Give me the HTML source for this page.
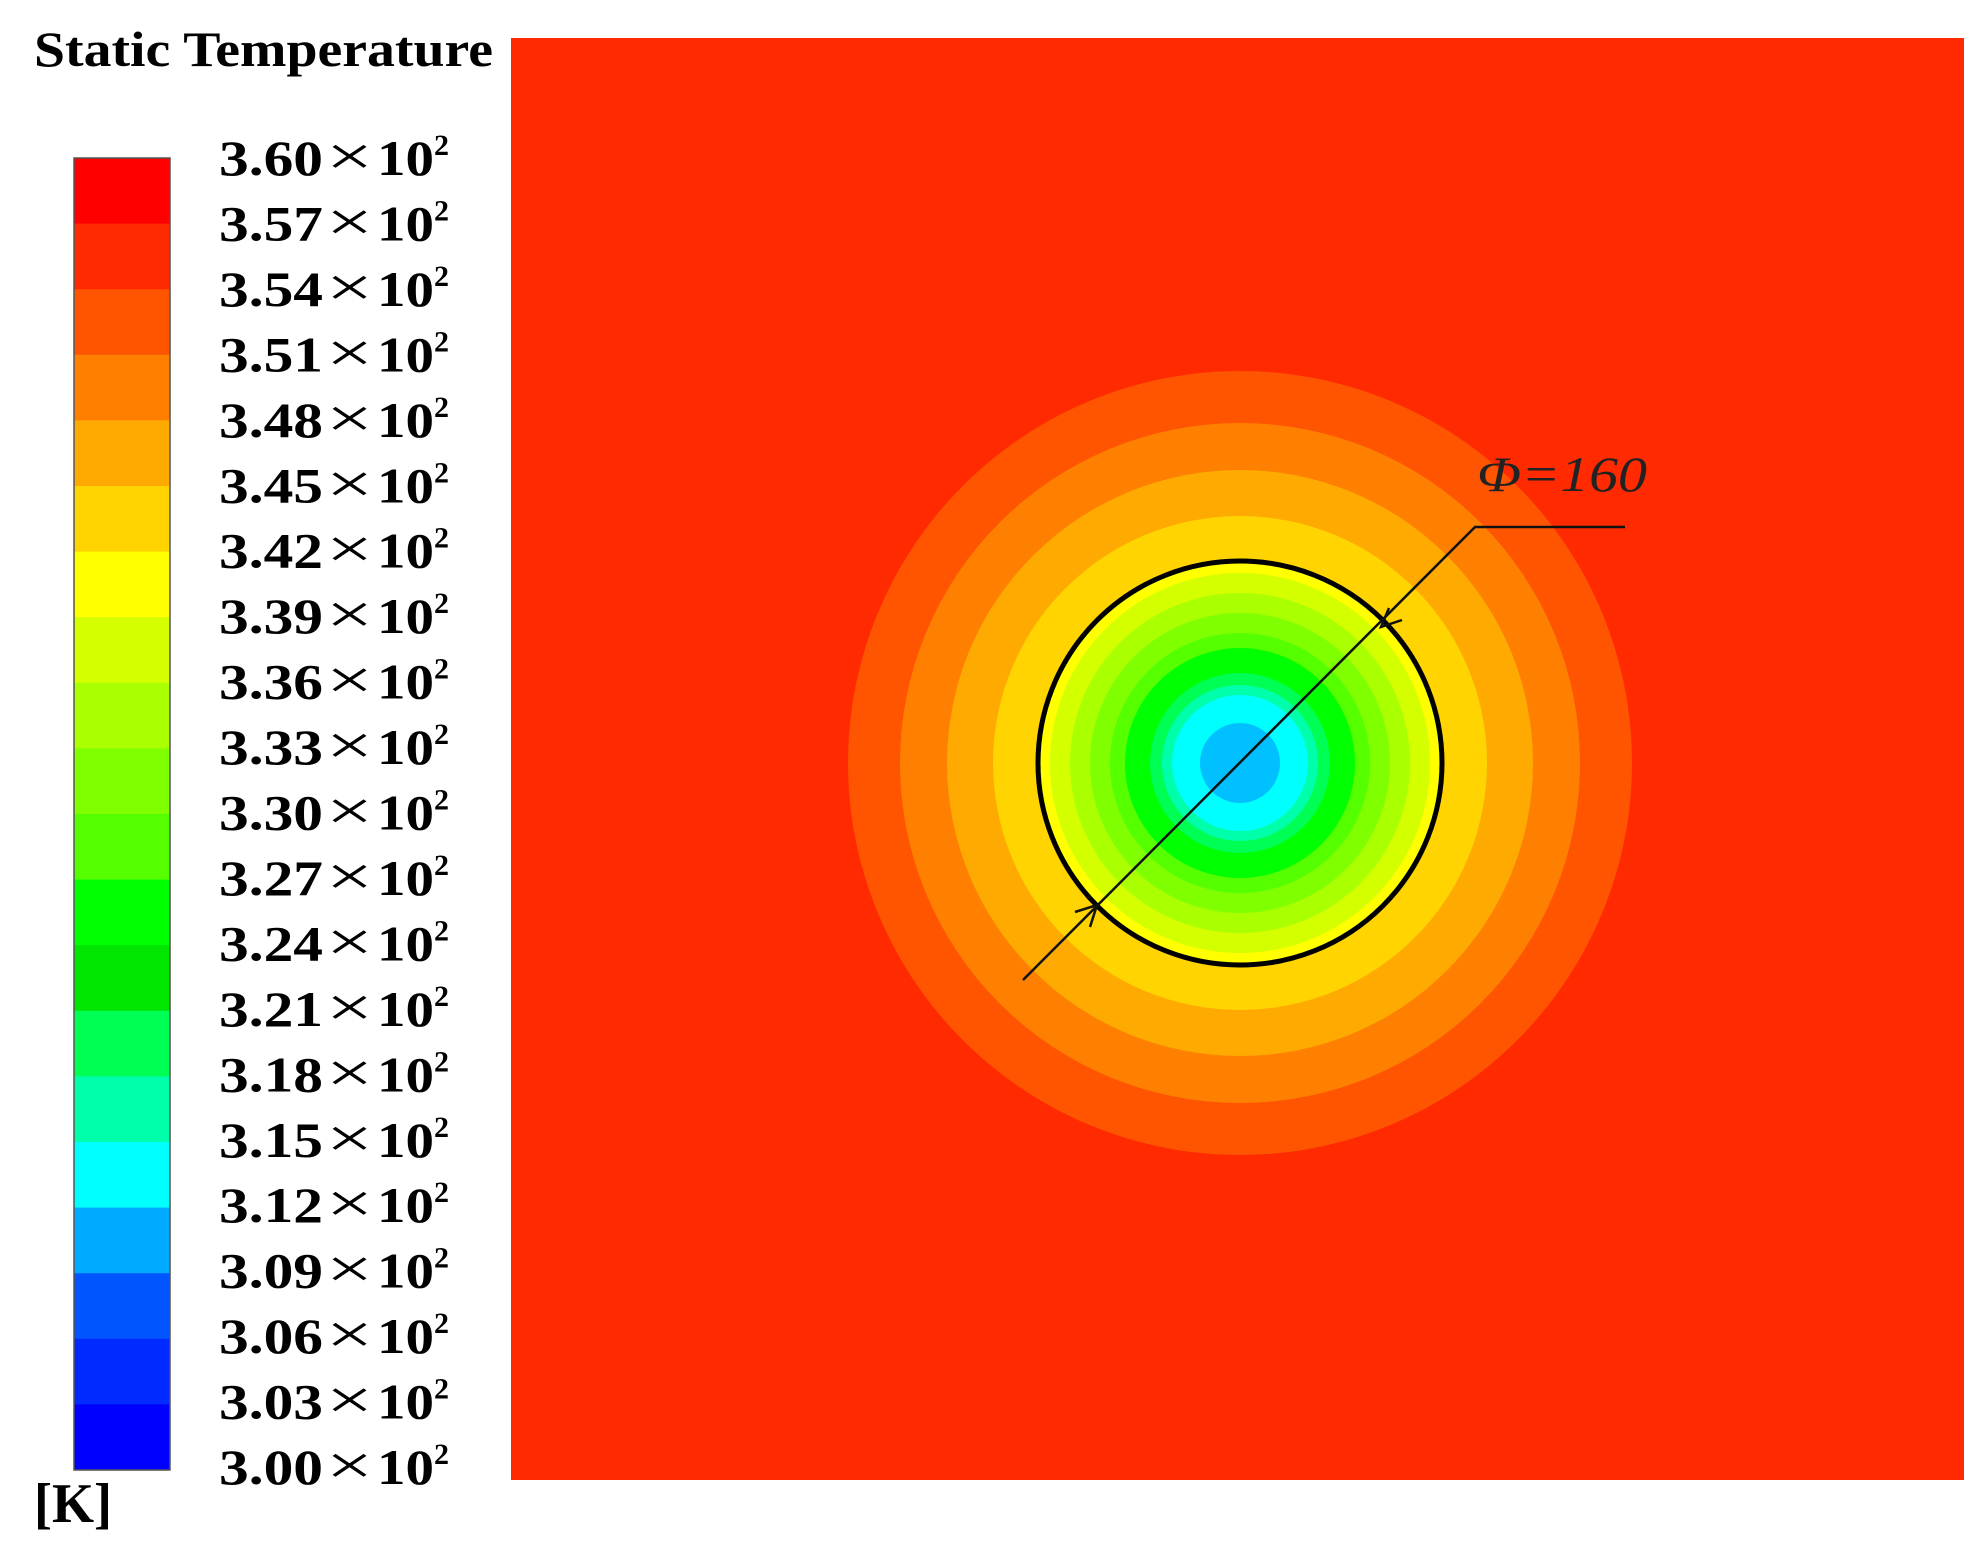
<!DOCTYPE html>
<html><head><meta charset="utf-8"><style>
html,body{margin:0;padding:0;background:#fff;}
svg{display:block;font-family:"Liberation Serif",serif;}
</style></head><body>
<svg id="chart" width="1983" height="1556" viewBox="0 0 1983 1556">
<text x="34" y="66" font-size="50" font-weight="bold" textLength="459" lengthAdjust="spacingAndGlyphs">Static Temperature</text>
<g id="cbar"></g>
<g id="ticks"></g>
<text x="34" y="1522" font-size="56" font-weight="bold" textLength="78" lengthAdjust="spacingAndGlyphs">[K]</text>
<g id="plot"></g>
</svg>
<script>
const bandColors=["#ff0000","#ff2a00","#ff5500","#ff8000","#ffaa00","#ffd400","#ffff00","#d4ff00","#aaff00","#80ff00","#55ff00","#00ff00","#00e600","#00ff55","#00ffaa","#00ffff","#00aaff","#0055ff","#002aff","#0000ff"];
const tickValues=["3.60","3.57","3.54","3.51","3.48","3.45","3.42","3.39","3.36","3.33","3.30","3.27","3.24","3.21","3.18","3.15","3.12","3.09","3.06","3.03","3.00"];
const ringRadii=[392,340,293,247,203,190,170,150,130,115,90,78,68,40];
const ringColors=["#ff5500","#ff8000","#ffaa00","#ffd400","#ffff00","#d4ff00","#aaff00","#80ff00","#55ff00","#00ff00","#00ff55","#00ffaa","#00ffff","#00c0ff"];
const diameterLabel="Φ=160";
const NS="http://www.w3.org/2000/svg";
function mk(tag,attrs,parent){const e=document.createElementNS(NS,tag);for(const k in attrs)e.setAttribute(k,attrs[k]);parent.appendChild(e);return e;}
const cb=document.getElementById('cbar'),tk=document.getElementById('ticks'),pl=document.getElementById('plot');
const barTop=158,barBot=1470,barX=74,barW=96;
const yScale=i=>barTop+(barBot-barTop)*i/bandColors.length;
bandColors.forEach((c,i)=>{
 const r=mk('rect',{x:barX,y:yScale(i),width:barW,height:yScale(i+1)-yScale(i)+0.5,fill:c},cb);
 
 
});
const fr=mk('rect',{x:barX,y:barTop,width:barW,height:barBot-barTop,fill:'none',stroke:'#555','stroke-width':1.5},cb);


tickValues.forEach((v,i)=>{
 const y=barTop+(1467-barTop)*i/(tickValues.length-1);
 const t=mk('text',{x:219,y:y+17,'font-size':50,'font-weight':'bold',textLength:104,lengthAdjust:'spacingAndGlyphs'},tk);
 t.textContent=v;
 
 
 const m=mk('text',{x:326,y:y+17,'font-size':56,textLength:47,lengthAdjust:'spacingAndGlyphs'},tk);m.textContent='×';
 
 
 const e=mk('text',{x:377,y:y+17,'font-size':50,'font-weight':'bold',textLength:57,lengthAdjust:'spacingAndGlyphs'},tk);e.textContent='10';
 
 
 const s=mk('text',{x:434,y:y-3,'font-size':30,'font-weight':'bold'},tk);s.textContent='2';
 
 
});
const bg=mk('rect',{x:511,y:38,width:1453,height:1442,fill:'#ff2a00'},pl);


const cx=1240,cy=763;
ringRadii.forEach((r,i)=>{
 const c=mk('circle',{cx:cx,cy:cy,r:r,fill:ringColors[i]},pl);
 
 
});
const bc=mk('circle',{cx:cx,cy:cy,r:202,fill:'none',stroke:'#000','stroke-width':5},pl);


const dl=mk('polyline',{points:'1023,980 1475,527 1625,527',fill:'none',stroke:'#111','stroke-width':2.5},pl);


const a1=mk('polyline',{points:'1075,912 1097,905 1090,927',fill:'none',stroke:'#111','stroke-width':2.5},pl);


const a2=mk('polyline',{points:'1389,608 1381,627 1402,620',fill:'none',stroke:'#111','stroke-width':2.5},pl);


const lt=mk('text',{x:1477,y:491,'font-size':50,'font-style':'italic',fill:'#222',textLength:170,lengthAdjust:'spacingAndGlyphs'},pl);
lt.textContent=diameterLabel;


</script>
</body></html>
